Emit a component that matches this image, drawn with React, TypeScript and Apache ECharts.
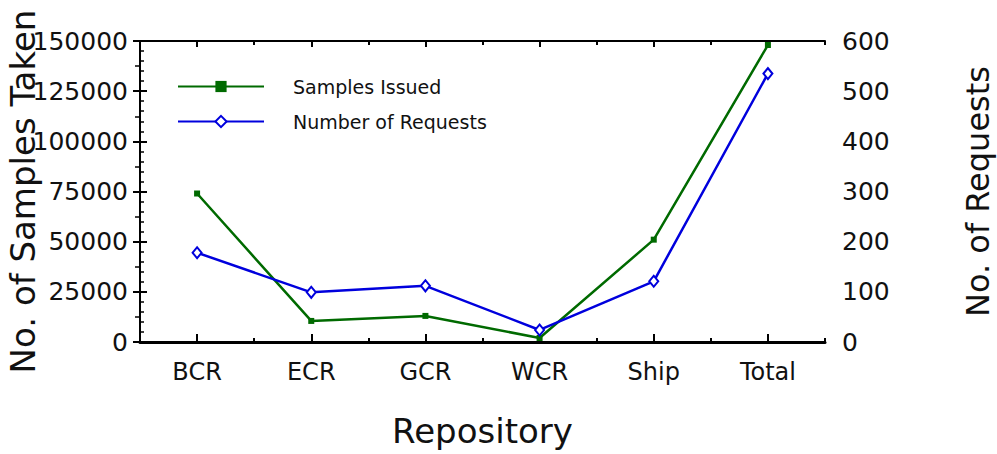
import React, { useEffect, useRef } from "react";
import * as echarts from "echarts";

const categories = ["BCR", "ECR", "GCR", "WCR", "Ship", "Total"];
const samplesIssued = [74000, 10500, 13000, 2000, 51000, 148000];
const numberOfRequests = [178, 99, 112, 24, 121, 535];
const leftAxisName = "No. of Samples Taken";
const rightAxisName = "No. of Requests";
const xAxisName = "Repository";

const FONT = "DejaVu Sans";
const GREEN = "#006a00";
const BLUE = "#0000dd";

export default function App() {
  const ref = useRef<HTMLDivElement>(null);
  useEffect(() => {
    if (!ref.current) return;
    const chart = echarts.init(ref.current, undefined, { renderer: "svg" });
    const axisLine = (w: number) => ({ show: true, lineStyle: { color: "#000", width: w } });
    const plain = (v: number) => String(v);
    chart.setOption({
      animation: false,
      backgroundColor: "#fff",
      textStyle: { fontFamily: FONT },
      grid: { left: 140, right: 172, top: 41, bottom: 112, containLabel: false, outerBoundsMode: "none" },
      legend: {
        left: 177,
        top: 77,
        padding: 0,
        orient: "vertical",
        itemWidth: 86,
        itemHeight: 14,
        itemGap: 16,
        textStyle: { fontFamily: FONT, fontSize: 19, color: "#111", padding: [0, 0, 0, 24] },
        data: ["Samples Issued", "Number of Requests"],
      },
      xAxis: [
        {
          type: "category",
          position: "bottom",
          data: categories,
          boundaryGap: true,
          axisLine: axisLine(3),
          axisTick: { show: true, inside: true, alignWithLabel: true, length: 8, lineStyle: { color: "#000", width: 2 } },
          axisLabel: { fontFamily: FONT, fontSize: 24, color: "#111", margin: 18 },
          splitLine: { show: false },
          name: xAxisName,
          nameLocation: "middle",
          nameGap: 72,
          nameMoveOverlap: false,
          nameTextStyle: { fontFamily: FONT, fontSize: 34, color: "#111" },
        },
        {
          type: "value",
          position: "bottom",
          min: 0,
          max: 6,
          interval: 1,
          axisLine: { show: false },
          axisTick: { show: true, inside: true, length: 4, lineStyle: { color: "#000", width: 2 } },
          axisLabel: { show: false },
          splitLine: { show: false },
        },
        {
          type: "category",
          position: "top",
          data: categories,
          boundaryGap: true,
          axisLine: axisLine(2),
          axisTick: { show: true, inside: true, alignWithLabel: true, length: 6, lineStyle: { color: "#000", width: 2 } },
          axisLabel: { show: false },
          splitLine: { show: false },
        },
        {
          type: "value",
          position: "top",
          min: 0,
          max: 6,
          interval: 1,
          axisLine: { show: false },
          axisTick: { show: true, inside: true, length: 4, lineStyle: { color: "#000", width: 2 } },
          axisLabel: { show: false },
          splitLine: { show: false },
        },
      ],
      yAxis: [
        {
          type: "value",
          position: "left",
          min: 0,
          max: 150000,
          interval: 25000,
          axisLine: axisLine(2),
          axisTick: { show: true, inside: true, length: 7, lineStyle: { color: "#000", width: 2 } },
          minorTick: { show: true, splitNumber: 5, length: 4, lineStyle: { color: "#000", width: 1.5 } },
          axisLabel: { fontFamily: FONT, fontSize: 25, color: "#111", margin: 12, formatter: plain },
          splitLine: { show: false },
          name: leftAxisName,
          nameLocation: "middle",
          nameGap: 100,
          nameMoveOverlap: false,
          nameTextStyle: { fontFamily: FONT, fontSize: 34, color: "#111" },
        },
        {
          type: "value",
          position: "right",
          min: 0,
          max: 600,
          interval: 100,
          axisLine: axisLine(2),
          axisTick: { show: true, inside: true, length: 7, lineStyle: { color: "#000", width: 2 } },
          minorTick: { show: true, splitNumber: 2, length: 5, lineStyle: { color: "#000", width: 1.5 } },
          axisLabel: { fontFamily: FONT, fontSize: 25, color: "#111", margin: 17, formatter: plain },
          splitLine: { show: false },
          name: rightAxisName,
          nameLocation: "middle",
          nameGap: 137,
          nameRotate: 90,
          nameMoveOverlap: false,
          nameTextStyle: { fontFamily: FONT, fontSize: 32, color: "#111" },
        },
      ],
      series: [
        {
          name: "Samples Issued",
          type: "line",
          xAxisIndex: 0,
          yAxisIndex: 0,
          data: samplesIssued,
          symbol: "rect",
          symbolSize: 6,
          itemStyle: { color: GREEN },
          lineStyle: { color: GREEN, width: 2.5 },
        },
        {
          name: "Number of Requests",
          type: "line",
          xAxisIndex: 0,
          yAxisIndex: 1,
          data: numberOfRequests,
          symbol: "emptyDiamond",
          symbolSize: [9, 11],
          itemStyle: { color: BLUE, borderColor: BLUE, borderWidth: 2.5 },
          lineStyle: { color: BLUE, width: 2.5 },
        },
      ],
    });
    return () => chart.dispose();
  }, []);
  return (
    <div
      ref={ref}
      style={{ position: "absolute", left: 0, top: 0, width: 997, height: 454 }}
    />
  );
}
